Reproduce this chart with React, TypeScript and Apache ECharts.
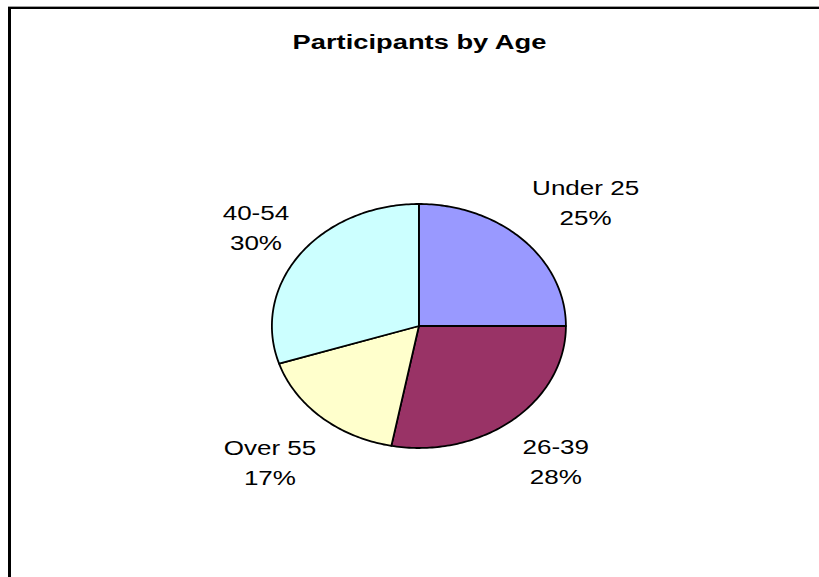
import React, { useEffect, useRef } from "react";
import * as echarts from "echarts";

const titleText = "Participants by Age";
const categories = ["Under 25", "26-39", "Over 55", "40-54"];
const values = [25, 28, 17, 30];
const colors = ["#9999FF", "#993366", "#FFFFCC", "#CCFFFF"];

export default function App() {
  const ref = useRef<HTMLDivElement>(null);
  useEffect(() => {
    const chart = echarts.init(ref.current!, null, { renderer: "svg" });
    const total = values.reduce((a, b) => a + b, 0);
    const cum: number[] = [];
    values.reduce((acc, v, i) => {
      cum[i] = acc;
      return acc + v;
    }, 0);
    const cx = 418.9, cy = 326, rx = 147, ry = 122;
    const labelK = 1.45;
    const nudge = [[16, 1.5], [1, 0], [-8, 4], [9.5, 5.5]];
    const stretch = 1.24;
    const font = '21px "Liberation Sans", Arial, sans-serif';

    const renderItem = (params: any, api: any) => {
      const i = params.dataIndex;
      const v = api.value(0);
      const a0 = 90 - (cum[i] / total) * 360;
      const a1 = a0 - (v / total) * 360;
      const pts: number[][] = [[cx, cy]];
      const n = Math.max(2, Math.ceil(Math.abs(a1 - a0)));
      for (let k = 0; k <= n; k++) {
        const a = ((a0 + ((a1 - a0) * k) / n) * Math.PI) / 180;
        pts.push([cx + rx * Math.cos(a), cy - ry * Math.sin(a)]);
      }
      const am = (((a0 + a1) / 2) * Math.PI) / 180;
      const lx = cx + Math.cos(am) * rx * labelK + nudge[i][0];
      const ly = cy - Math.sin(am) * ry * labelK + nudge[i][1];
      return {
        type: "group",
        children: [
          {
            type: "polygon",
            shape: { points: pts },
            style: { fill: colors[i], stroke: "#000", lineWidth: 1.8, lineJoin: "round" },
          },
          {
            type: "text",
            x: lx,
            y: ly,
            scaleX: stretch,
            style: {
              text: `${categories[i]}\n${Math.round((v / total) * 100)}%`,
              font,
              fill: "#000",
              align: "center",
              verticalAlign: "middle",
              lineHeight: 30,
            },
          },
        ],
      };
    };

    chart.setOption({
      animation: false,
      backgroundColor: "#ffffff",
      graphic: [
        { type: "rect", shape: { x: 8, y: 6, width: 811, height: 1 }, style: { fill: "#a0a0a0" } },
        { type: "rect", shape: { x: 8, y: 7, width: 811, height: 2 }, style: { fill: "#000" } },
        { type: "rect", shape: { x: 8, y: 7, width: 3, height: 570 }, style: { fill: "#000" } },
        {
          type: "text",
          x: 419.5,
          y: 41.4,
          scaleX: 1.365,
          style: {
            text: titleText,
            font: 'bold 20px "Liberation Sans", Arial, sans-serif',
            fill: "#000",
            align: "center",
            verticalAlign: "middle",
          },
        },
      ],
      series: [
        {
          type: "custom",
          coordinateSystem: "none",
          renderItem,
          data: values.map((v) => [v]),
        },
      ],
    });
    return () => chart.dispose();
  }, []);
  return (
    <div
      ref={ref}
      style={{ position: "absolute", left: 0, top: 0, width: 819, height: 577 }}
    />
  );
}
